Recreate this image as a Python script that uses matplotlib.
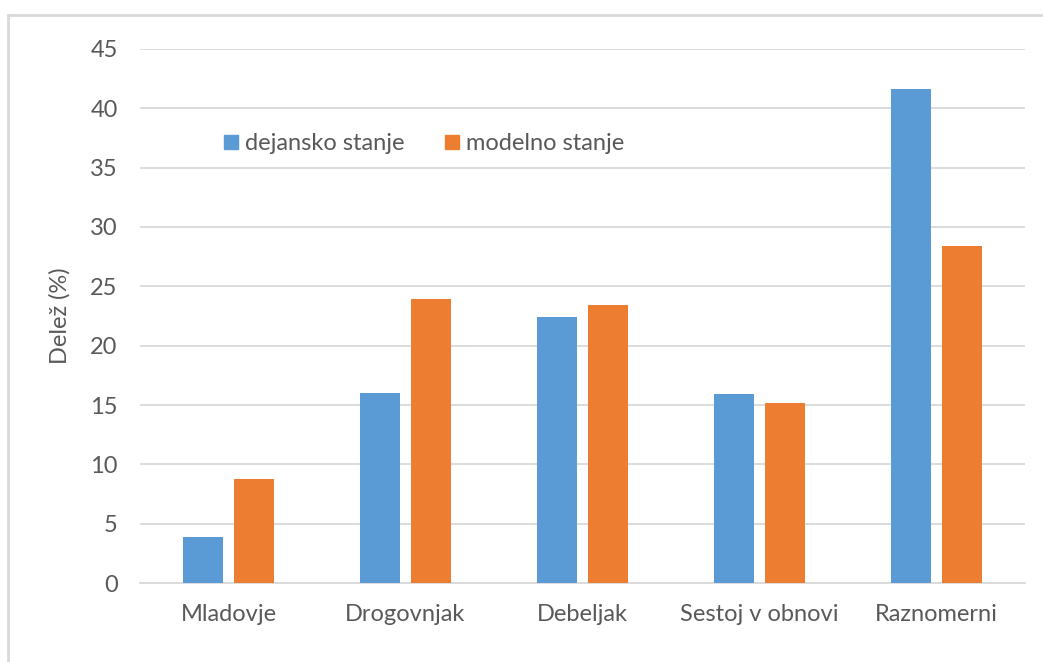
import numpy as np
import matplotlib.pyplot as plt
from matplotlib.lines import Line2D

categories = ["Mladovje", "Drogovnjak", "Debeljak", "Sestoj v obnovi", "Raznomerni"]
dejansko = [3.9, 16.0, 22.4, 15.9, 41.6]
modelno = [8.8, 23.9, 23.4, 15.2, 28.4]
series_names = ["dejansko stanje", "modelno stanje"]
y_ticks = [0, 5, 10, 15, 20, 25, 30, 35, 40, 45]

blue = "#5B9BD5"
orange = "#ED7D31"
text_grey = "#595959"

plt.rcParams["font.family"] = ["Lato", "DejaVu Sans"]

fig = plt.figure(figsize=(10.43, 6.62), dpi=100)
ax = fig.add_axes([0.1342, 0.1193, 0.8486, 0.8067])

x = np.arange(len(categories))
width = 0.225
offset = 0.144

ax.bar(x - offset, dejansko, width, color=blue, zorder=3)
ax.bar(x + offset, modelno, width, color=orange, zorder=3)

ax.set_xlim(-0.5, len(categories) - 0.5)
ax.set_ylim(0, 45)
ax.set_yticks(y_ticks)
ax.set_xticks(x)
ax.set_xticklabels(categories)

ax.grid(axis="y", color="#D9D9D9", linewidth=1.3, zorder=0)
for side in ["top", "right", "left"]:
    ax.spines[side].set_visible(False)
ax.spines["bottom"].set_color("#D9D9D9")
ax.spines["bottom"].set_linewidth(1.3)

ax.tick_params(axis="both", length=0, labelsize=17, colors=text_grey)
ax.tick_params(axis="y", pad=16)
ax.tick_params(axis="x", pad=15)

ax.set_ylabel("Delež (%)", fontsize=17, color=text_grey, labelpad=14)

handles = [
    Line2D([], [], marker="s", linestyle="", markersize=10, color=blue),
    Line2D([], [], marker="s", linestyle="", markersize=10, color=orange),
]
ax.legend(handles, series_names, loc="center left", bbox_to_anchor=(0.068, 0.823),
          ncol=2, frameon=False, fontsize=17, labelcolor=text_grey,
          handletextpad=0.2, columnspacing=1.6, handlelength=0.8)

# chart border: top and left edges only
fig.add_artist(Line2D([8 / 1043, 1.0], [1 - 15 / 662, 1 - 15 / 662],
                      transform=fig.transFigure, color="#D9D9D9", linewidth=2))
fig.add_artist(Line2D([8 / 1043, 8 / 1043], [0.0, 1 - 15 / 662],
                      transform=fig.transFigure, color="#D9D9D9", linewidth=2))

fig.savefig("out.png", dpi=100)
